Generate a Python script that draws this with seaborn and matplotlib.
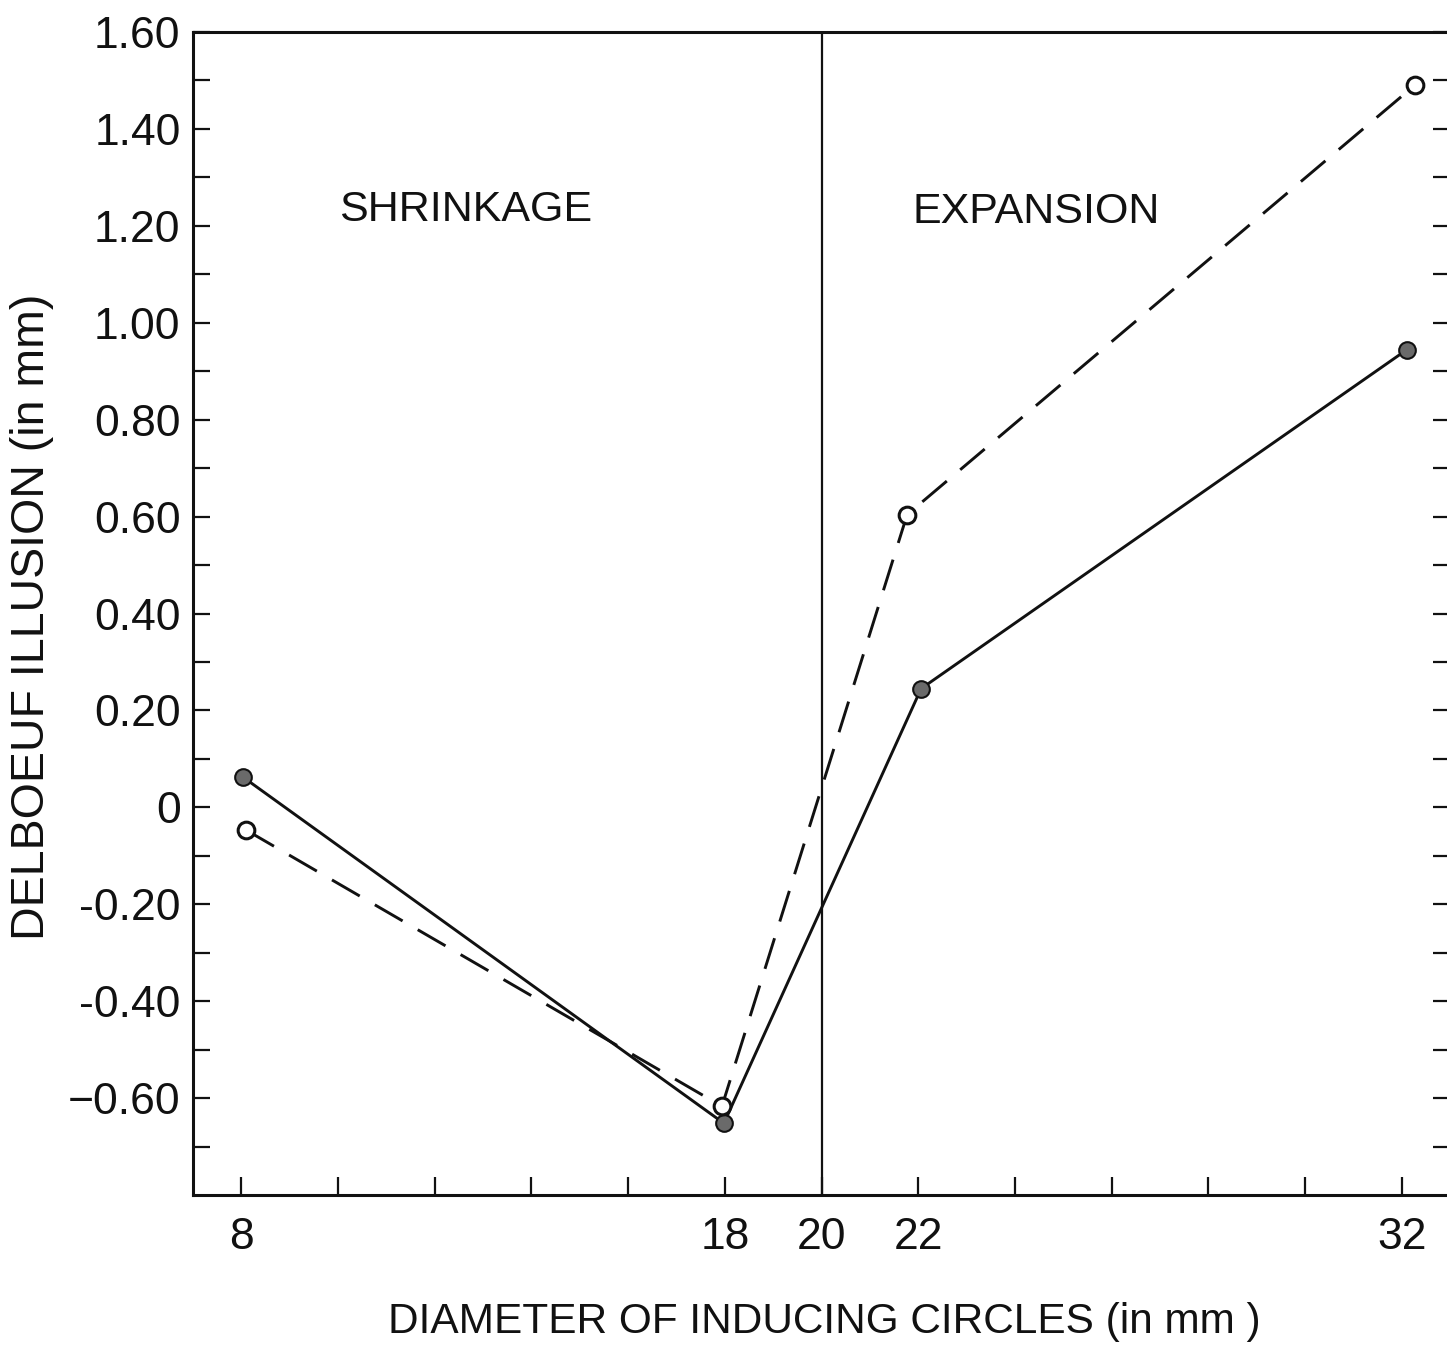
import numpy as np
import pandas as pd
import matplotlib
matplotlib.use("Agg")
import matplotlib.pyplot as plt
from matplotlib.ticker import FixedLocator, FixedFormatter
import seaborn as sns

# values (x in mm, illusion in mm)
filled_x = [8.04, 17.98, 22.06, 32.1]
filled_y = [0.062, -0.652, 0.245, 0.944]
open_x = [8.1, 17.94, 21.77, 32.28]
open_y = [-0.047, -0.617, 0.604, 1.491]

x_ticks = [8, 10, 12, 14, 16, 18, 20, 22, 24, 26, 28, 30, 32]
x_labels = ["8", "", "", "", "", "18", "20", "22", "", "", "", "", "32"]
y_major = [-0.6, -0.4, -0.2, 0.0, 0.2, 0.4, 0.6, 0.8, 1.0, 1.2, 1.4, 1.6]
y_labels = ["\u22120.60", "-0.40", "-0.20", "0", "0.20", "0.40", "0.60",
            "0.80", "1.00", "1.20", "1.40", "1.60"]
y_minor = [-0.7, -0.5, -0.3, -0.1, 0.1, 0.3, 0.5, 0.7, 0.9, 1.1, 1.3, 1.5]

sns.set_theme(style="ticks")
plt.rcParams["font.family"] = ["Liberation Sans", "DejaVu Sans"]

fig = plt.figure(figsize=(14.47, 13.69), dpi=100)
ax = fig.add_axes([0.1334, 0.1271, 0.8687, 0.8495])

df_filled = pd.DataFrame({"x": filled_x, "y": filled_y})
df_open = pd.DataFrame({"x": open_x, "y": open_y})

sns.lineplot(data=df_filled, x="x", y="y", ax=ax, color="#111111", lw=2.1,
             marker="o", markersize=12, markerfacecolor="#6a6a6a",
             markeredgecolor="#111111", markeredgewidth=1.5, zorder=3)
sns.lineplot(data=df_open, x="x", y="y", ax=ax, color="#111111", lw=2.1,
             linestyle=(0, (11, 6)), marker="o", markersize=12,
             markerfacecolor="white", markeredgecolor="#111111",
             markeredgewidth=2.2, zorder=3)

ax.axvline(20, color="#111111", lw=1.6, zorder=2)

ax.set_xlim(7, 33)
ax.set_ylim(-0.8, 1.6)

ax.xaxis.set_major_locator(FixedLocator(x_ticks))
ax.xaxis.set_major_formatter(FixedFormatter(x_labels))
ax.yaxis.set_major_locator(FixedLocator(y_major))
ax.yaxis.set_major_formatter(FixedFormatter(y_labels))
ax.yaxis.set_minor_locator(FixedLocator(y_minor))

ax.tick_params(axis="x", which="major", direction="in", length=13, width=1.6,
               pad=16, labelsize=32, colors="#111111", top=False)
ax.tick_params(axis="y", which="both", direction="in", length=12, width=1.6,
               pad=9, labelsize=32, colors="#111111", left=True, right=True)

for sp in ax.spines.values():
    sp.set_visible(True)
    sp.set_linewidth(2.2)
    sp.set_color("#111111")

ax.text(12.63, 1.233, "SHRINKAGE", fontsize=31, ha="center", va="center",
        color="#111111")
ax.text(24.43, 1.229, "EXPANSION", fontsize=31, ha="center", va="center",
        color="#111111")

ax.set_xlabel("DIAMETER OF INDUCING CIRCLES (in mm )", fontsize=30.5,
              color="#111111", va="center")
ax.xaxis.set_label_coords(0.502, -0.109)
ax.set_ylabel("DELBOEUF ILLUSION (in mm)", fontsize=33.5, color="#111111",
              va="center")
ax.yaxis.set_label_coords(-0.128, 0.497)

fig.savefig("out.png", dpi=100, facecolor="white")
